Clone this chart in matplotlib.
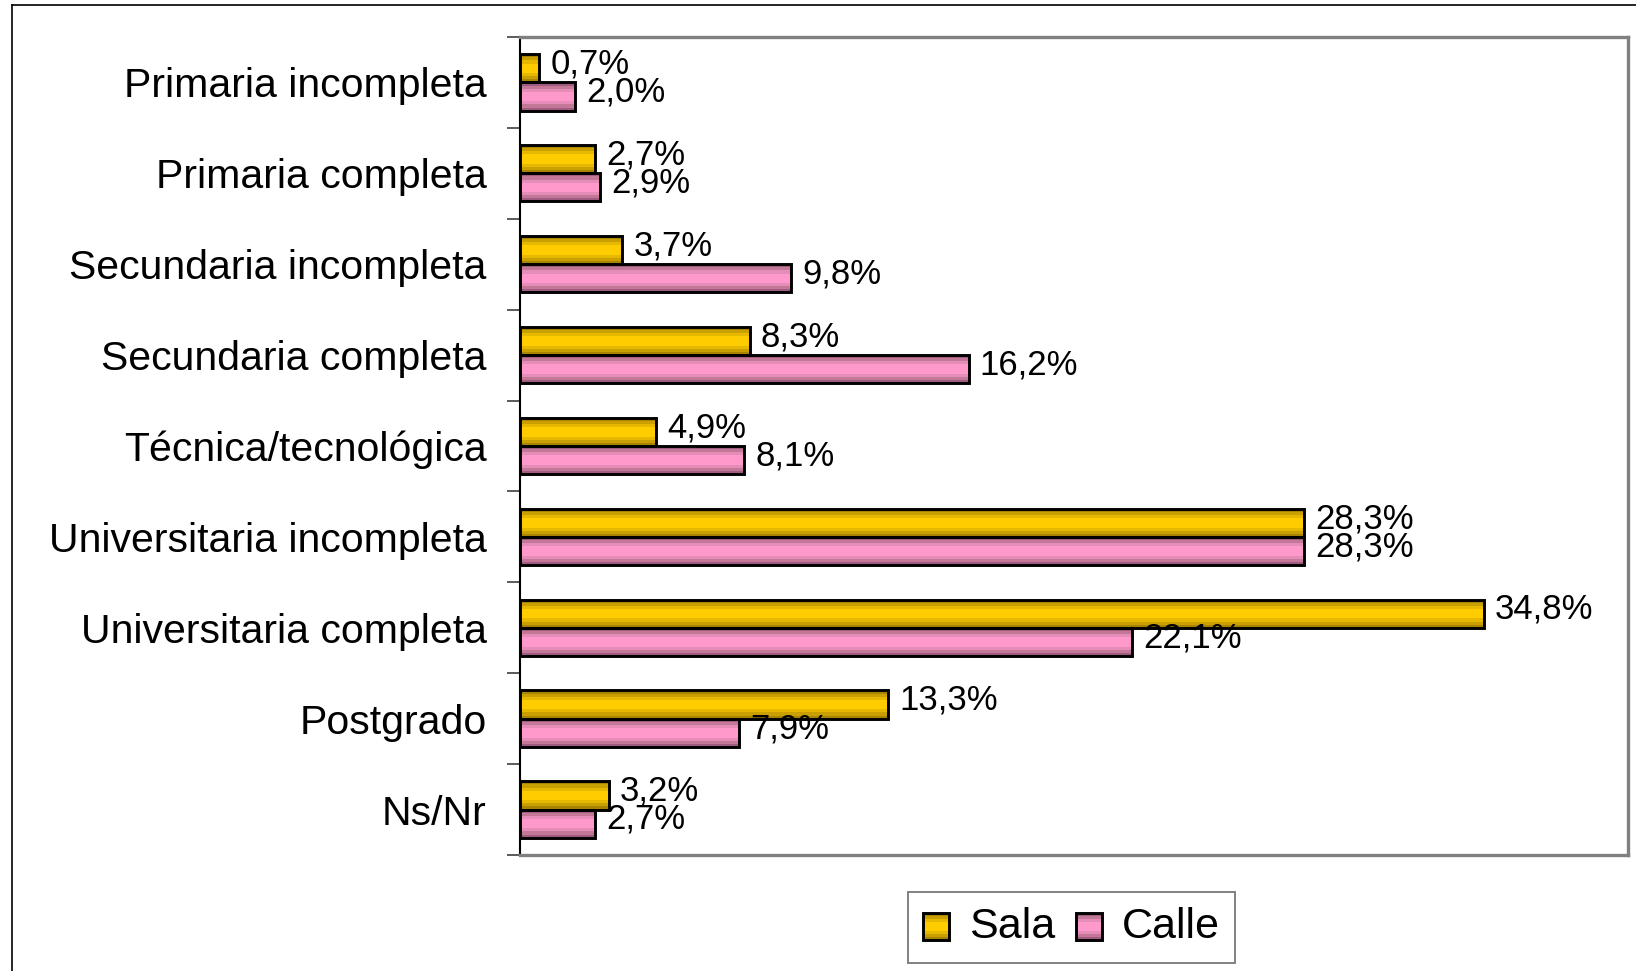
import numpy as np
import matplotlib
matplotlib.use('Agg')
import matplotlib.pyplot as plt
from matplotlib.patches import Rectangle
from matplotlib.lines import Line2D

plt.rcParams['font.family'] = ['Liberation Sans', 'DejaVu Sans']

categories = ['Primaria incompleta', 'Primaria completa', 'Secundaria incompleta',
              'Secundaria completa', 'Técnica/tecnológica', 'Universitaria incompleta',
              'Universitaria completa', 'Postgrado', 'Ns/Nr']
sala = [0.7, 2.7, 3.7, 8.3, 4.9, 28.3, 34.8, 13.3, 3.2]
calle = [2.0, 2.9, 9.8, 16.2, 8.1, 28.3, 22.1, 7.9, 2.7]
series_names = ['Sala', 'Calle']

# stripe colours, outer (dark) -> centre (light)
SALA_BANDS = ['#a88400', '#c9a000', '#e6b800', '#ffcc00']
CALLE_BANDS = ['#a05c80', '#c47898', '#e68cb8', '#ff99cc']


def striped_barh(ax, y, widths, height, bands):
    # layered bars give the shaded "cylinder" look of the original
    fracs = [1.0, 0.78, 0.56, 0.34]
    for f, c in zip(fracs, bands):
        ax.barh(y, widths, height=height * f, color=c, lw=0, zorder=2)
    ax.barh(y, widths, height=height, fill=False, edgecolor='black',
            lw=2.1, zorder=3)


class StripeHandler:
    def __init__(self, bands):
        self.bands = bands

    def legend_artist(self, legend, orig_handle, fontsize, handlebox):
        x0, y0 = handlebox.xdescent, handlebox.ydescent
        w, h = handlebox.width, handlebox.height
        tr = handlebox.get_transform()
        for f, c in zip([1.0, 0.78, 0.56, 0.34], self.bands):
            hh = h * f
            handlebox.add_artist(Rectangle((x0, y0 + (h - hh) / 2), w, hh,
                                           facecolor=c, lw=0, transform=tr))
        r = Rectangle((x0, y0), w, h, fill=False, edgecolor='black', lw=2.1,
                      transform=tr)
        handlebox.add_artist(r)
        return r


fig = plt.figure(figsize=(16.36, 9.71), dpi=100)
ax = fig.add_axes([0.3178, 0.1195, 0.6773, 0.8424])

n = len(categories)
y = np.arange(n)
h = 0.31
striped_barh(ax, y - h / 2, sala, h, SALA_BANDS)
striped_barh(ax, y + h / 2, calle, h, CALLE_BANDS)

for yi, v in zip(y - h / 2, sala):
    ax.annotate(f'{v:.1f}%'.replace('.', ','), (v, yi), xytext=(8, 3),
                textcoords='offset points', va='center', ha='left',
                fontsize=25, zorder=4)
for yi, v in zip(y + h / 2, calle):
    ax.annotate(f'{v:.1f}%'.replace('.', ','), (v, yi), xytext=(8, 3),
                textcoords='offset points', va='center', ha='left',
                fontsize=25, zorder=4)

ax.set_xlim(0, 40)
ax.set_ylim(n - 0.5, -0.5)
ax.set_xticks([])
ax.set_yticks(y)
ax.set_yticklabels(categories, fontsize=29.5)
ax.tick_params(axis='y', which='major', length=0, pad=24)
ax.set_yticks(np.arange(n + 1) - 0.5, minor=True)
ax.tick_params(axis='y', which='minor', length=9.5, width=1.2, color='#404040')

for s in ['top', 'right', 'bottom']:
    ax.spines[s].set_color('#808080')
    ax.spines[s].set_linewidth(2.4)
ax.spines['left'].set_color('black')
ax.spines['left'].set_linewidth(1.5)

handles = [Rectangle((0, 0), 1, 1), Rectangle((0, 1), 1, 1)]
leg = fig.legend(handles, series_names, loc='center',
                 bbox_to_anchor=(0.655, 0.0448), ncol=2, fontsize=31,
                 frameon=True, fancybox=False, handlelength=0.6,
                 handleheight=0.6, handletextpad=0.45, columnspacing=0.5,
                 borderpad=0.35,
                 handler_map={handles[0]: StripeHandler(SALA_BANDS),
                              handles[1]: StripeHandler(CALLE_BANDS)})
leg.get_frame().set_edgecolor('#555555')
leg.get_frame().set_linewidth(1.3)

# outer chart frame (runs off the right and bottom edges)
fx, fy = 12 / 1636, 1 - 5 / 971
fig.add_artist(Line2D([fx, fx], [0, fy], color='black', lw=1.2,
                      transform=fig.transFigure))
fig.add_artist(Line2D([fx, 1], [fy, fy], color='black', lw=1.2,
                      transform=fig.transFigure))

fig.savefig('out.png', dpi=100)
